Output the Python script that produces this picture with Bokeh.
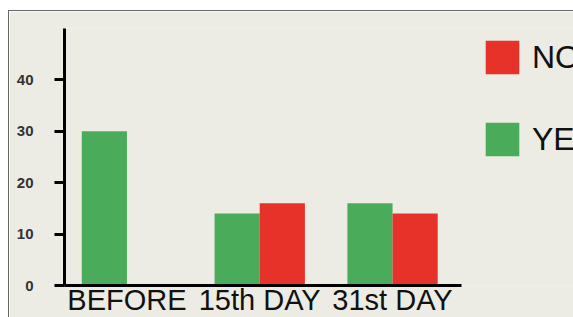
from bokeh.plotting import figure
from bokeh.models import (ColumnDataSource, Range1d, FixedTicker,
                          Legend, LegendItem)
from bokeh.transform import dodge
from bokeh.embed import file_html
from bokeh.resources import INLINE

categories = ["BEFORE", "15th DAY", "31st DAY"]
yes_values = [30, 14, 16]
no_values = [0, 16, 14]
y_ticks = [0, 10, 20, 30, 40]

BG = "#ecebe4"
GREEN = "#4aac5a"
RED = "#e7322a"

x_index = list(range(len(categories)))
source = ColumnDataSource(dict(x=x_index, cat=categories,
                               yes=yes_values, no=no_values))

p = figure(x_range=Range1d(-0.47, 3.37), y_range=Range1d(0, 50),
           width=565, height=307, output_backend="svg", toolbar_location=None,
           min_border_left=55, min_border_right=0, min_border_top=17,
           min_border_bottom=33)
p.styles = {"border-top": "1px solid #666", "border-left": "1px solid #666",
            "margin-top": "10px", "margin-left": "8px"}
p.background_fill_color = BG
p.border_fill_color = BG
p.outline_line_color = None
p.grid.visible = False

r_yes = p.vbar(x=dodge("x", -0.17), top="yes", width=0.34,
               source=source, fill_color=GREEN, line_color=None)
r_no = p.vbar(x=dodge("x", 0.17), top="no", width=0.34,
              source=source, fill_color=RED, line_color=None)

# y axis
ya = p.yaxis[0]
ya.ticker = FixedTicker(ticks=y_ticks)
ya.axis_line_width = 3
ya.axis_line_color = "#000000"
ya.major_tick_line_width = 3
ya.major_tick_line_color = "#000000"
ya.major_tick_out = 10
ya.major_tick_in = 0
ya.minor_tick_line_color = None
ya.major_label_standoff = 21
ya.major_label_text_font = "Liberation Sans"
ya.major_label_text_font_size = "15px"
ya.major_label_text_font_style = "bold"
ya.major_label_text_color = "#333333"

# x axis
xa = p.xaxis[0]
xa.ticker = FixedTicker(ticks=x_index)
xa.major_label_overrides = {i: c for i, c in zip(x_index, categories)}
xa.bounds = (-0.47, 2.52)
xa.axis_line_width = 3
xa.axis_line_color = "#000000"
xa.major_tick_line_color = None
xa.major_tick_out = 0
xa.major_tick_in = 0
xa.minor_tick_line_color = None
xa.minor_tick_out = 0
xa.major_label_standoff = -2
xa.major_label_text_font = "Liberation Sans"
xa.major_label_text_font_size = "29px"
xa.major_label_text_color = "#111111"

legend = Legend(items=[LegendItem(label="NO", renderers=[r_no]),
                       LegendItem(label="YES", renderers=[r_yes])],
                location=(417, 125), padding=0, margin=0,
                glyph_width=42, glyph_height=42, label_height=42, spacing=40,
                label_standoff=9, border_line_color=None,
                background_fill_alpha=0,
                label_text_font="Liberation Sans", label_text_font_size="32px",
                label_text_color="#111111")
p.add_layout(legend)

open("out.html", "w").write(file_html(p, INLINE))
